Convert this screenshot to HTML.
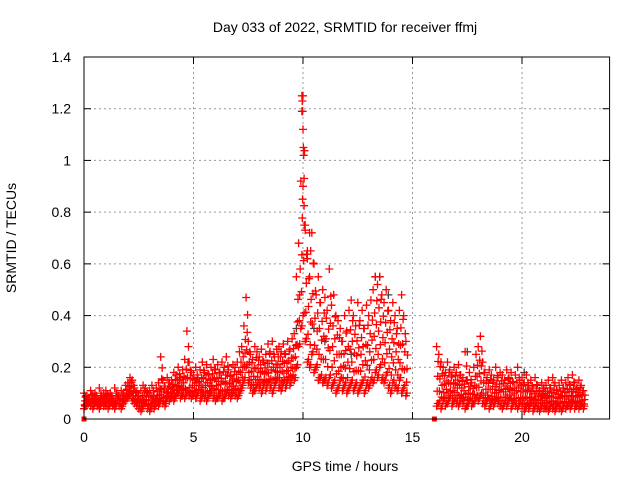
<!DOCTYPE html>
<html><head><meta charset="utf-8"><style>
body{margin:0;background:#fff;}
svg text{font-family:"Liberation Sans",sans-serif;font-size:14px;fill:#000;}
</style></head><body>
<svg id="chart" width="640" height="480">
<rect width="640" height="480" fill="#fff"/>
<g id="grid"></g>
<g id="ticks"></g>
<g id="marks"></g>
<rect x="84" y="57" width="525.6" height="362" fill="none" stroke="#000" stroke-width="1"/>
<text x="345" y="32" text-anchor="middle">Day 033 of 2022, SRMTID for receiver ffmj</text>
<text x="345" y="471" text-anchor="middle">GPS time / hours</text>
<text transform="translate(16,238) rotate(-90)" text-anchor="middle">SRMTID / TECUs</text>
</svg>
<script>
const xTicks=[0,5,10,15,20];
const yTicks=[0,0.2,0.4,0.6,0.8,1,1.2,1.4];
const yTickLabels=["0","0.2","0.4","0.6","0.8","1","1.2","1.4"];
const segStarts=[0,16.1];
const sampleStep=0.1;
const hiA=[.10,.09,.08,.11,.09,.10,.08,.12,.09,.10,
.11,.09,.10,.08,.12,.10,.09,.11,.10,.13,
.14,.16,.15,.12,.10,.09,.11,.13,.12,.10,
.11,.13,.09,.12,.14,.24,.15,.12,.16,.14,
.15,.18,.17,.20,.16,.19,.23,.34,.22,.18,
.17,.20,.16,.19,.22,.18,.21,.17,.20,.23,
.19,.21,.18,.22,.20,.24,.19,.17,.21,.20,
.22,.26,.28,.36,.47,.30,.25,.23,.28,.26,
.24,.27,.22,.25,.29,.26,.30,.24,.27,.28,
.26,.29,.25,.30,.27,.31,.33,.55,.68,.92,
1.25,.75,.65,.55,.72,.60,.48,.55,.45,.50,
.47,.42,.58,.44,.48,.40,.38,.35,.30,.40,
.34,.42,.46,.40,.36,.45,.38,.42,.35,.44,
.40,.46,.50,.55,.52,.55,.48,.45,.50,.42,
.38,.45,.40,.35,.42,.48,.40,.30];
const loA=[.04,.05,.06,.05,.04,.06,.05,.04,.06,.05,
.05,.04,.06,.05,.04,.06,.05,.04,.06,.07,
.08,.09,.07,.06,.05,.04,.03,.05,.06,.04,
.03,.05,.04,.06,.05,.07,.06,.05,.08,.07,
.08,.07,.09,.10,.08,.09,.08,.10,.09,.08,
.09,.08,.10,.07,.09,.08,.07,.09,.10,.08,
.07,.08,.09,.07,.08,.10,.09,.08,.10,.09,
.08,.10,.12,.15,.20,.14,.12,.10,.11,.13,
.12,.10,.13,.11,.14,.12,.10,.13,.15,.12,
.11,.14,.12,.15,.13,.16,.15,.20,.28,.35,
.40,.30,.22,.20,.25,.18,.20,.15,.16,.14,
.15,.13,.16,.12,.14,.10,.12,.15,.11,.13,
.10,.12,.14,.11,.13,.10,.12,.14,.10,.13,
.12,.15,.14,.18,.16,.20,.15,.14,.17,.12,
.10,.14,.12,.11,.15,.10,.12,.09];
const hiB=[.28,.25,.22,.20,.18,.22,.19,.17,.20,.18,
.21,.17,.16,.26,.15,.18,.14,.20,.25,.28,
.32,.22,.18,.16,.19,.17,.15,.20,.16,.18,
.17,.15,.19,.16,.18,.14,.17,.20,.15,.16,
.14,.17,.13,.15,.12,.16,.13,.11,.14,.12,
.13,.15,.12,.16,.14,.11,.13,.15,.12,.14,
.16,.13,.17,.14,.12,.15,.13,.11];
const loB=[.05,.06,.04,.07,.05,.06,.08,.05,.07,.06,
.05,.07,.06,.04,.05,.07,.05,.06,.08,.07,
.09,.06,.05,.07,.04,.06,.05,.07,.06,.05,
.04,.06,.05,.07,.04,.06,.05,.04,.06,.05,
.03,.05,.04,.06,.03,.05,.04,.03,.05,.04,
.04,.03,.05,.04,.03,.05,.04,.03,.05,.04,
.05,.04,.06,.04,.05,.04,.05,.04];
const peakTimes=[9.95,9.97,9.98,10.0,10.02,10.03,10.05,10.0,9.98,10.06,10.1,10.3,10.35,10.2];
const peakVals=[1.25,1.23,1.19,1.12,1.05,1.02,0.93,0.90,0.85,0.75,0.73,0.72,0.65,0.62];
const greyTimes=[9.95,10.5,11.0,13.3,13.5,13.9,17.5,20.1,9.7,12.2];
const greyVals=[1.19,0.35,0.30,0.55,0.55,0.48,0.26,0.18,0.35,0.25];
const zeroTimes=[0,16.0];
const zeroVals=[0,0];

const X0=84,X1=609.6,Y0=419,Y1=57;
const xs=t=>X0+t/24*(X1-X0);
const ys=v=>Y0-v/1.4*(Y0-Y1);
const NS="http://www.w3.org/2000/svg";
const grid=document.getElementById('grid'),ticks=document.getElementById('ticks'),marks=document.getElementById('marks');
function mk(tag,attrs,parent){const e=document.createElementNS(NS,tag);for(const k in attrs)e.setAttribute(k,attrs[k]);parent.appendChild(e);return e;}
xTicks.forEach((t,i)=>{const x=xs(t);
 if(i>0){const g=mk('line',{x1:x,x2:x,y1:Y0,y2:Y1,stroke:'#999','stroke-dasharray':'2,3'},grid);
 
 }
 mk('line',{x1:x,x2:x,y1:Y0,y2:Y0-7,stroke:'#000'},ticks);
 mk('line',{x1:x,x2:x,y1:Y1,y2:Y1+7,stroke:'#000'},ticks);
 const tx=mk('text',{x:x,y:442,'text-anchor':'middle'},ticks);tx.textContent=t;
 
 
});
yTicks.forEach((v,i)=>{const y=ys(v);
 if(i>0&&i<yTicks.length-1){const g=mk('line',{x1:X0,x2:X1,y1:y,y2:y,stroke:'#999','stroke-dasharray':'2,3'},grid);
 
 }
 mk('line',{x1:X0,x2:X0+7,y1:y,y2:y,stroke:'#000'},ticks);
 mk('line',{x1:X1,x2:X1-7,y1:y,y2:y,stroke:'#000'},ticks);
 const tx=mk('text',{x:71,y:y+5,'text-anchor':'end'},ticks);tx.textContent=yTickLabels[i];
 
 
});
let d='',dg='';
function plus(t,v){const x=xs(t),y=ys(v);return `M${(x-4).toFixed(1)} ${y.toFixed(1)}h8M${x.toFixed(1)} ${(y-4).toFixed(1)}v8`;}
greyTimes.forEach((t,i)=>{dg+=plus(t,greyVals[i]);});
const fracs=[0.25,0.5,0.75];
const offs=[0.03,0.05,0.07];
[[hiA,loA,0],[hiB,loB,1]].forEach(([hi,lo,s])=>{
 hi.forEach((v,i)=>{const t=segStarts[s]+i*sampleStep;d+=plus(t,v)+plus(t,lo[i]);
  fracs.forEach((f,k)=>{d+=plus(t+offs[k],lo[i]+(v-lo[i])*f);});
  d+=plus(t+0.05,lo[i]+0.01);});
});
peakTimes.forEach((t,i)=>{d+=plus(t,peakVals[i]);});
const pg=mk('path',{d:dg,stroke:'#444','stroke-width':1.3,fill:'none'},marks);


const pr=mk('path',{d:d,stroke:'#f00','stroke-width':1.3,fill:'none'},marks);


zeroTimes.forEach((t,i)=>{const r=mk('rect',{x:xs(t)-2.5,y:ys(zeroVals[i])-2.5,width:5,height:5,fill:'#f00'},marks);
 
 });
</script>
</body></html>
